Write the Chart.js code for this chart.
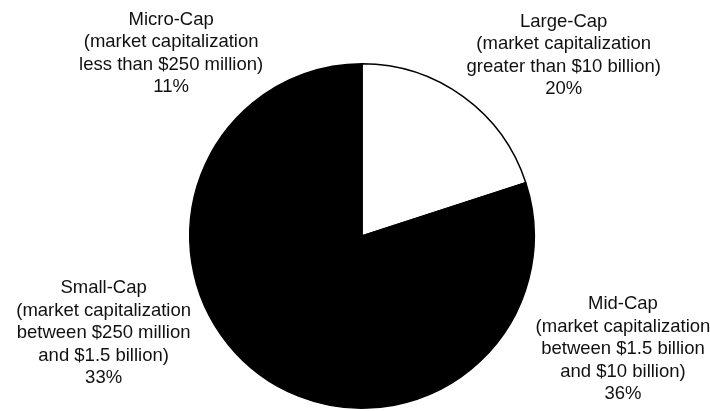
<!DOCTYPE html>
<html>
<head>
<meta charset="utf-8">
<script src="https://cdn.jsdelivr.net/npm/chart.js@4"></script>
<style>
  html, body { margin: 0; padding: 0; background: #fff; }
  #wrap { position: relative; width: 710px; height: 411px; }
</style>
</head>
<body>
<div id="wrap"><canvas id="capChart"></canvas></div>
<script>
// slices go clockwise from 12 o'clock
const categories = ['Large-Cap', 'Mid-Cap', 'Small-Cap', 'Micro-Cap'];
const shares = [20, 36, 33, 11];
const descriptions = [
    ['(market capitalization', 'greater than $10 billion)'],
    ['(market capitalization', 'between $1.5 billion', 'and $10 billion)'],
    ['(market capitalization', 'between $250 million', 'and $1.5 billion)'],
    ['(market capitalization', 'less than $250 million)']
];

const sliceColors = ['#ffffff', '#000000', '#000000', '#000000'];
// label block centre, in units of the pie radius from the pie centre
const labelOffsets = [[1.171, -1.047], [1.515, 0.657], [-1.5, 0.564], [-1.108, -1.061]];

const outsideLabels = {
    id: 'outsideLabels',
    afterDraw(chart) {
        const ctx = chart.ctx;
        const arcs = chart.getDatasetMeta(0).data;
        const lineH = 22.5;
        ctx.save();
        ctx.font = '18.5px "Liberation Sans", Arial, sans-serif';
        ctx.fillStyle = '#111';
        ctx.textAlign = 'center';
        ctx.textBaseline = 'middle';
        arcs.forEach((arc, i) => {
            const lines = [categories[i], ...descriptions[i], shares[i] + '%'];
            const cx = arc.x + labelOffsets[i][0] * arc.outerRadius;
            const cy = arc.y + labelOffsets[i][1] * arc.outerRadius;
            const top = cy - (lines.length - 1) * lineH / 2;
            lines.forEach((t, j) => ctx.fillText(t, cx, top + j * lineH));
        });
        ctx.restore();
    }
};

new Chart(document.getElementById('capChart'), {
    type: 'pie',
    data: {
        labels: categories,
        datasets: [{
            data: shares,
            backgroundColor: sliceColors,
            borderColor: '#000',
            borderWidth: 1.5
        }]
    },
    options: {
        responsive: true,
        maintainAspectRatio: false,
        animation: false,
        layout: { padding: { top: 63, bottom: 2, left: 14, right: 0 } },
        plugins: { legend: { display: false }, tooltip: { enabled: false } }
    },
    plugins: [outsideLabels]
});
</script>
</body>
</html>
